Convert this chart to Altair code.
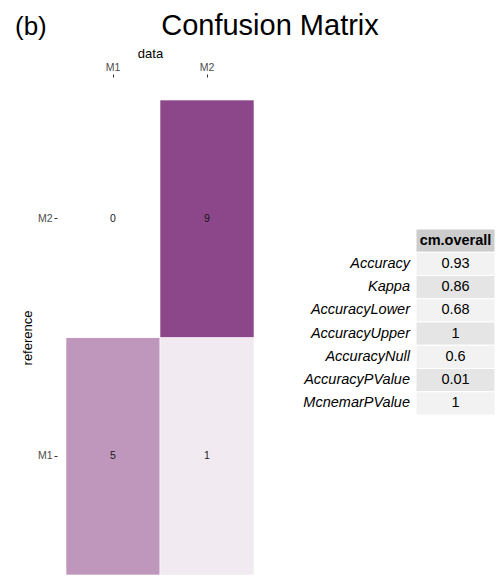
import altair as alt
import pandas as pd

# Confusion matrix counts: predicted class ("data") vs. observed class ("reference")
data_class = ["M1", "M2", "M1", "M2"]
reference_class = ["M1", "M1", "M2", "M2"]
freq = [5, 1, 0, 9]

# Overall statistics shown in the side table
stat_names = ["Accuracy", "Kappa", "AccuracyLower", "AccuracyUpper",
              "AccuracyNull", "AccuracyPValue", "McnemarPValue"]
stat_values = [0.93, 0.86, 0.68, 1, 0.6, 0.01, 1]
table_header = "cm.overall"

FONT = "Liberation Sans"

cm = pd.DataFrame({"data": data_class, "reference": reference_class, "Freq": freq})
stats = pd.DataFrame({
    "row": stat_names,
    "value": stat_values,
    "col": table_header,
    "idx": list(range(len(stat_names))),
})
header = pd.DataFrame({"row": [table_header], "col": [table_header]})
plot_title = pd.DataFrame({"t": ["Confusion Matrix"]})
panel_tag = pd.DataFrame({"t": ["(b)"]})

# ---- heatmap -------------------------------------------------------------
x_heat = alt.X(
    "data:N", sort=["M1", "M2"],
    scale=alt.Scale(paddingInner=0, paddingOuter=0),
    axis=alt.Axis(orient="top", title="data", offset=23, tickSize=3,
                  labelPadding=2, labelAngle=0, domain=False, grid=False,
                  tickColor="#333333", labelColor="#4d4d4d", labelFontSize=10.5,
                  labelFont=FONT, titleFont=FONT, titleFontSize=13,
                  titleFontWeight="normal", titleColor="#000000",
                  titlePadding=2, titleX=84),
)
y_heat = alt.Y(
    "reference:N", sort=["M2", "M1"],
    scale=alt.Scale(paddingInner=0, paddingOuter=0),
    axis=alt.Axis(title="reference", offset=9, tickSize=3, labelPadding=2,
                  domain=False, grid=False, tickColor="#333333",
                  labelColor="#4d4d4d", labelFontSize=10.5, labelFont=FONT,
                  titleFont=FONT, titleFontSize=13, titleFontWeight="normal",
                  titleColor="#000000", titlePadding=3),
)

tiles = alt.Chart(cm).mark_rect(stroke="white", strokeWidth=0.6).encode(
    x=x_heat,
    y=y_heat,
    color=alt.Color("Freq:Q",
                    scale=alt.Scale(range=["#FFFFFF", "#8B4789"], interpolate="lab"),
                    legend=None),
)
counts = alt.Chart(cm).mark_text(font=FONT, fontSize=10.5, color="#1a1a1a").encode(
    x=x_heat,
    y=y_heat,
    text="Freq:Q",
)
heat = alt.layer(tiles, counts)

# ---- statistics table ------------------------------------------------------
row_domain = [table_header] + stat_names
x_tab = dict(scale=alt.Scale(domain=[table_header], range=[350, 429],
                             paddingInner=0, paddingOuter=0), axis=None)
y_tab = dict(scale=alt.Scale(domain=row_domain, range=[129, 315],
                             paddingInner=0, paddingOuter=0), axis=None)

head_cell = alt.Chart(header).mark_rect(fill="#CCCCCC", stroke="white", strokeWidth=1).encode(
    x=alt.X("col:N", **x_tab), y=alt.Y("row:N", **y_tab))
body_cell = alt.Chart(stats).mark_rect(stroke="white", strokeWidth=1).encode(
    x=alt.X("col:N", **x_tab), y=alt.Y("row:N", **y_tab),
    fill=alt.condition("datum.idx % 2 == 0", alt.value("#F2F2F2"), alt.value("#E5E5E5")),
)
head_text = alt.Chart(header).mark_text(font=FONT, fontSize=14.5, fontWeight="bold",
                                        color="#000000").encode(
    x=alt.X("col:N", **x_tab), y=alt.Y("row:N", **y_tab), text="col:N")
value_text = alt.Chart(stats).mark_text(font=FONT, fontSize=14.5, color="#000000").encode(
    x=alt.X("col:N", **x_tab), y=alt.Y("row:N", **y_tab),
    text=alt.Text("value:Q", format=".2~f"))
row_text = alt.Chart(stats).mark_text(font=FONT, fontSize=14.5, fontStyle="italic",
                                      align="right", dx=-6, color="#000000").encode(
    x=alt.X("col:N", bandPosition=0, **x_tab), y=alt.Y("row:N", **y_tab), text="row:N")
table = alt.layer(head_cell, body_cell, head_text, value_text, row_text)

# ---- titles ----------------------------------------------------------------
title_mark = alt.Chart(plot_title).mark_text(
    font=FONT, fontSize=29, align="center", baseline="alphabetic", color="#000000"
).encode(text="t:N", x=alt.value(204), y=alt.value(-65))
tag_mark = alt.Chart(panel_tag).mark_text(
    font=FONT, fontSize=26, align="left", baseline="alphabetic", color="#000000"
).encode(text="t:N", x=alt.value(-51), y=alt.value(-65))

chart = alt.layer(heat, table, title_mark, tag_mark).resolve_scale(
    x="independent", y="independent", color="independent"
).properties(
    width=188, height=475,
    padding={"left": 66, "top": 100, "right": 247, "bottom": 2},
    autosize=alt.AutoSizeParams(type="none"),
    background="white",
).configure_view(stroke=None)

chart.save("out.html", embed_options={"renderer": "svg", "actions": False})
